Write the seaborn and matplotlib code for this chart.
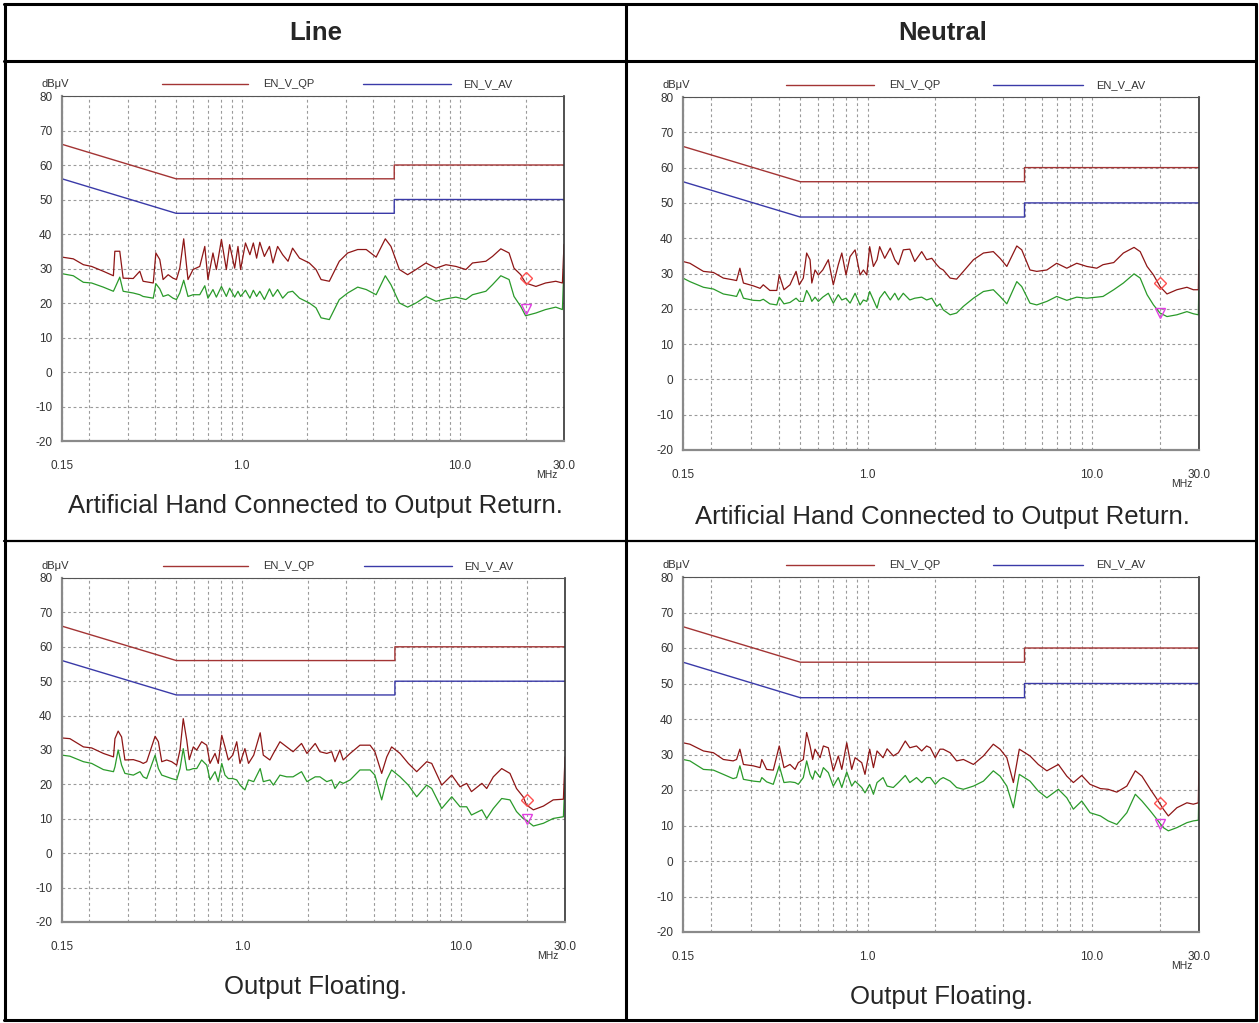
import matplotlib
matplotlib.use("Agg")
import matplotlib.pyplot as plt
from matplotlib.lines import Line2D
from matplotlib.ticker import NullFormatter
import seaborn as sns

# limit lines (same for every panel)
lim_freq = [0.15, 0.5, 5.0, 5.0, 30.0]
qp_limit = [66, 56, 56, 60, 60]
av_limit = [56, 46, 46, 50, 50]

# top-left: Line, artificial hand connected
tl_freq = [0.15, 0.169, 0.188, 0.205, 0.232, 0.258, 0.262, 0.276, 0.286, 0.318,
           0.341, 0.353, 0.393, 0.404, 0.421, 0.436, 0.460, 0.484, 0.502, 0.520,
           0.542, 0.567, 0.598, 0.642, 0.677, 0.700, 0.738, 0.765, 0.807, 0.850,
           0.880, 0.928, 0.961, 0.988, 1.04, 1.09, 1.13, 1.17, 1.21, 1.27,
           1.34, 1.39, 1.46, 1.54, 1.63, 1.71, 1.84,
           2.04, 2.19, 2.31, 2.52, 2.80, 3.06, 3.40, 3.72, 4.13, 4.55,
           4.83, 5.28, 5.76, 6.29, 6.99, 7.77, 8.63, 9.59, 10.65, 11.42,
           13.15, 14.10, 15.4, 16.8, 17.7, 19.0, 20.0, 22.3, 24.7, 27.5,
           29.5, 30.0]
tl_qp = [33.3, 32.8, 31.1, 30.6, 29.2, 27.9, 35.0, 35.0, 27.2, 27.1,
         29.2, 26.3, 25.8, 34.5, 32.6, 26.8, 28.2, 27.2, 26.8, 30.1,
         38.6, 26.8, 29.7, 30.6, 36.4, 26.8, 34.5, 29.7, 38.4, 29.7,
         36.9, 30.1, 36.4, 29.7, 37.4, 34.0, 37.4, 33.0, 37.6, 33.5,
         36.4, 31.6, 36.4, 34.0, 32.1, 35.9, 33.0,
         31.6, 29.7, 26.8, 26.3, 32.1, 34.5, 35.5, 35.5, 33.3, 38.6,
         36.4, 29.7, 28.2, 29.7, 31.6, 30.1, 31.1, 30.6, 29.7, 31.6,
         32.1, 33.5, 35.7, 34.5, 30.1, 28.2, 25.8, 24.8, 25.8, 26.3,
         25.8, 37.0]
tl_av = [28.5, 27.9, 26.0, 25.8, 24.6, 23.4, 24.3, 27.5, 23.4, 22.9,
         22.4, 21.9, 21.4, 25.6, 24.1, 21.9, 22.4, 21.4, 21.0, 22.9,
         26.6, 21.9, 22.4, 22.4, 25.0, 21.4, 23.9, 21.7, 24.8, 21.9,
         24.3, 21.7, 23.4, 21.9, 23.7, 21.4, 23.7, 21.9, 23.4, 21.0,
         24.1, 21.9, 23.9, 21.4, 23.1, 23.4, 21.4,
         20.0, 18.6, 15.7, 15.2, 21.0, 22.9, 24.6, 23.9, 22.4, 27.9,
         25.3, 20.0, 18.8, 20.0, 21.9, 20.5, 21.2, 21.7, 21.0, 22.4,
         23.4, 25.3, 27.9, 26.8, 21.9, 19.0, 16.3, 17.1, 18.1, 18.8,
         18.1, 31.0]

# top-right: Neutral, artificial hand connected
tr_freq = [0.15, 0.161, 0.185, 0.205, 0.227, 0.251, 0.260, 0.269, 0.279, 0.309,
           0.331, 0.342, 0.366, 0.393, 0.403, 0.423, 0.450, 0.479, 0.495, 0.516,
           0.534, 0.553, 0.563, 0.582, 0.602, 0.630, 0.667, 0.702, 0.739, 0.766,
           0.800, 0.834, 0.878, 0.924, 0.956, 0.990, 1.02, 1.06, 1.10, 1.13,
           1.19, 1.26, 1.32, 1.37, 1.44, 1.54, 1.62, 1.74, 1.83, 1.93,
           2.03, 2.10,
           2.17, 2.33, 2.49, 2.67, 2.96, 3.28, 3.63, 3.89, 4.17, 4.62,
           4.86, 5.29, 5.67, 6.29, 6.96, 7.72, 8.55, 9.48, 10.5, 11.2,
           12.5, 13.8, 15.4, 16.4, 17.6, 18.8, 20.1, 21.6, 23.9, 26.5,
           28.3, 29.8, 30.0]
tr_qp = [33.4, 32.9, 30.6, 30.3, 28.7, 28.2, 28.0, 31.5, 27.3, 26.5,
         25.8, 26.8, 25.2, 25.2, 29.6, 25.4, 26.8, 30.6, 26.8, 28.7,
         35.8, 33.9, 27.3, 31.0, 29.6, 31.0, 33.9, 26.8, 32.5, 35.8,
         29.6, 34.8, 36.7, 29.6, 31.0, 29.6, 37.6, 32.0, 33.9, 37.6,
         34.3, 37.2, 33.9, 32.5, 36.7, 36.9, 33.4, 36.2, 33.9, 34.3,
         32.5, 31.5,
         31.0, 28.7, 28.4, 30.6, 33.9, 35.8, 36.2, 34.3, 32.0, 37.8,
         36.7, 31.0, 30.6, 31.0, 32.9, 31.5, 32.9, 32.0, 31.5, 32.5,
         33.1, 35.8, 37.4, 36.2, 32.0, 29.6, 26.3, 24.2, 25.4, 26.1,
         25.4, 25.4, 36.7]
tr_av = [28.7, 27.7, 26.1, 25.6, 24.2, 23.7, 23.5, 25.6, 23.0, 22.4,
         22.3, 22.7, 21.4, 21.1, 23.3, 21.4, 21.8, 23.0, 22.1, 22.1,
         25.2, 23.5, 22.1, 23.3, 22.1, 23.3, 24.4, 21.6, 24.0, 22.5,
         23.0, 21.6, 24.4, 21.1, 22.5, 22.1, 24.9, 22.5, 20.2, 23.0,
         24.9, 22.5, 24.4, 22.5, 24.4, 22.5, 23.0, 23.3, 22.5, 23.0,
         20.7, 21.4,
         19.7, 18.3, 18.8, 20.7, 23.0, 24.9, 25.4, 23.5, 21.4, 27.7,
         26.3, 21.6, 21.1, 22.1, 23.5, 22.4, 23.3, 23.0, 23.3, 23.5,
         25.4, 27.3, 29.9, 28.7, 24.0, 21.1, 18.8, 17.8, 18.3, 19.2,
         18.6, 18.3, 29.0]

# bottom-left: Line, output floating
bl_freq = [0.15, 0.163, 0.188, 0.205, 0.232, 0.258, 0.262, 0.271, 0.281, 0.291,
           0.318, 0.341, 0.353, 0.366, 0.400, 0.414, 0.429, 0.452, 0.476, 0.502,
           0.520, 0.538, 0.558, 0.573, 0.598, 0.620, 0.653, 0.689, 0.713, 0.752,
           0.778, 0.807, 0.835, 0.865, 0.906, 0.945, 0.978, 1.03, 1.07, 1.13,
           1.21, 1.25, 1.34, 1.39, 1.49, 1.60, 1.71, 1.87, 1.98, 2.16,
           2.27, 2.44, 2.57, 2.66, 2.80,
           2.90, 3.12, 3.46, 3.85, 4.05, 4.35, 4.59, 4.83, 5.28, 5.76,
           6.29, 6.99, 7.37, 8.19, 9.10, 9.93, 10.65, 11.2, 12.5, 13.15,
           14.1, 15.4, 16.8, 18.0, 19.3, 20.0, 21.5, 23.9, 26.5, 29.5,
           30.0]
bl_qp = [33.5, 33.3, 30.9, 30.6, 29.0, 28.0, 33.3, 35.5, 33.8, 27.1,
         27.2, 26.6, 26.1, 26.6, 34.0, 32.4, 26.6, 27.1, 26.6, 25.6,
         30.0, 39.1, 32.9, 27.2, 30.9, 30.0, 32.4, 31.4, 26.1, 29.0,
         26.1, 34.3, 30.9, 27.1, 28.5, 32.4, 26.1, 30.4, 26.1, 28.5,
         35.0, 28.5, 27.1, 29.0, 32.4, 30.9, 29.5, 31.9, 29.0, 31.9,
         29.5, 29.0, 29.5, 26.6, 30.0,
         27.1, 29.0, 31.4, 31.4, 29.5, 23.2, 28.0, 30.9, 29.0, 26.1,
         23.7, 26.6, 26.1, 19.8, 22.7, 19.3, 20.3, 17.9, 20.3, 18.8,
         22.2, 24.6, 23.2, 18.8, 16.4, 14.0, 12.6, 13.7, 15.5, 15.7,
         28.0]
bl_av = [28.5, 28.2, 26.6, 26.1, 24.3, 23.7, 25.1, 30.0, 25.6, 23.2,
         22.7, 23.7, 22.2, 21.7, 28.5, 24.6, 22.7, 22.2, 21.7, 21.3,
         24.6, 30.4, 24.2, 24.2, 24.6, 24.6, 27.1, 25.6, 21.3, 23.7,
         20.8, 26.1, 22.7, 21.7, 21.7, 21.3, 19.8, 18.4, 21.3, 20.8,
         24.6, 20.8, 21.3, 19.8, 22.7, 22.2, 22.2, 23.7, 20.8, 22.2,
         22.2, 20.8, 21.3, 18.8, 20.8,
         20.3, 21.3, 24.2, 24.2, 22.7, 15.5, 21.3, 24.2, 22.2, 19.8,
         16.4, 19.8, 18.8, 13.0, 16.4, 13.5, 13.5, 11.1, 12.6, 10.1,
         13.0, 15.9, 15.5, 12.1, 10.1, 9.5, 7.9, 8.7, 10.1, 10.6,
         21.7]

# bottom-right: Neutral, output floating
br_freq = [0.15, 0.161, 0.185, 0.205, 0.227, 0.251, 0.260, 0.269, 0.279, 0.309,
           0.331, 0.337, 0.354, 0.379, 0.403, 0.423, 0.450, 0.474, 0.490, 0.516,
           0.534, 0.553, 0.568, 0.582, 0.613, 0.634, 0.667, 0.702, 0.739, 0.766,
           0.806, 0.848, 0.878, 0.940, 0.972, 1.02, 1.06, 1.10, 1.17, 1.22,
           1.30, 1.37, 1.47, 1.54, 1.65, 1.74, 1.83, 1.90, 2.00, 2.10,
           2.17, 2.33, 2.49, 2.67, 2.96, 3.28, 3.63, 3.89, 4.17, 4.46,
           4.74, 5.29, 5.76, 6.29, 7.08, 7.72, 8.26, 9.00, 9.80, 10.9,
           11.8, 12.9, 14.3, 15.6, 16.7, 18.2, 19.5, 20.8, 21.9, 23.9,
           26.5, 28.3, 29.8, 30.0]
br_qp = [33.3, 32.9, 31.0, 30.5, 28.6, 28.2, 28.6, 31.5, 27.2, 26.8,
         26.3, 28.6, 25.8, 25.6, 32.4, 26.3, 27.2, 25.8, 27.7, 28.6,
         36.2, 32.4, 28.6, 31.5, 29.1, 32.4, 31.9, 25.4, 29.6, 25.8,
         33.3, 25.8, 29.1, 27.7, 24.4, 31.5, 26.3, 31.0, 29.1, 31.6,
         29.6, 30.5, 33.8, 31.9, 32.4, 31.0, 32.4, 31.9, 29.1, 31.5,
         31.5, 30.5, 28.2, 28.6, 27.2, 29.6, 32.9, 31.5, 29.1, 22.1,
         31.5, 29.6, 27.2, 25.4, 27.2, 23.9, 22.1, 24.1, 21.6, 20.4,
         20.2, 19.4, 21.1, 25.4, 23.9, 20.2, 17.4, 14.6, 12.7, 15.0,
         16.4, 16.0, 16.4, 28.6]
br_av = [28.6, 28.2, 25.8, 25.6, 24.4, 23.2, 23.5, 26.8, 23.0, 22.5,
         22.3, 23.5, 22.3, 21.6, 26.8, 22.1, 22.3, 22.1, 21.6, 23.5,
         28.2, 24.4, 23.0, 25.4, 23.5, 26.3, 24.9, 21.1, 23.5, 20.7,
         25.1, 21.1, 22.5, 20.7, 19.2, 21.6, 18.8, 22.1, 23.5, 21.1,
         20.7, 22.1, 24.1, 22.1, 23.5, 22.1, 23.5, 23.5, 21.6, 23.0,
         23.5, 22.5, 20.7, 20.2, 21.1, 22.5, 25.4, 23.9, 21.1, 15.0,
         24.4, 22.5, 19.7, 17.8, 20.2, 17.8, 14.6, 16.9, 13.6, 12.7,
         11.3, 10.3, 13.6, 18.8, 16.9, 14.1, 11.7, 9.4, 8.5, 9.4,
         10.8, 11.3, 11.5, 22.5]

# final scan markers (tl, tr, bl, br)
mark_freq = [20.0, 20.1, 20.0, 20.0]
mark_qp = [27.2, 27.3, 15.5, 16.2]
mark_av = [18.4, 18.8, 9.9, 10.3]

x_ticks = [0.15, 1.0, 10.0, 30.0]
x_labels = ["0.15", "1.0", "10.0", "30.0"]
x_minor = [0.2, 0.3, 0.4, 0.5, 0.6, 0.7, 0.8, 0.9, 2, 3, 4, 5, 6, 7, 8, 9, 20]
y_ticks = list(range(-20, 81, 10))

headers = ["Line", "Neutral"]
captions = ["Artificial Hand Connected to Output Return.", "Output Floating."]

sns.set_style("white")
plt.rcParams["font.family"] = ["Liberation Sans Narrow", "Liberation Sans", "DejaVu Sans"]
plt.rcParams["axes.unicode_minus"] = False
big_font = ["Liberation Sans", "DejaVu Sans"]

QP_LIM = "#a33434"
AV_LIM = "#3a3aa8"
QP_COL = "#8e1616"
AV_COL = "#2a9a2a"
GRID = "#9a9a9a"
TXT = "#333333"

W, H = 1259, 1023
fig = plt.figure(figsize=(W / 100, H / 100), dpi=100)


def px_box(l, t, r, b):
    return [l / W, 1 - b / H, (r - l) / W, (b - t) / H]


panels = [
    (tl_freq, tl_qp, tl_av, 0, (62, 96, 564, 441)),
    (tr_freq, tr_qp, tr_av, 1, (683, 97, 1199, 450)),
    (bl_freq, bl_qp, bl_av, 2, (62, 578, 565, 922)),
    (br_freq, br_qp, br_av, 3, (683, 577, 1199, 932)),
]

for freq, qp, av, i, box in panels:
    ax = fig.add_axes(px_box(*box))
    ax.set_xscale("log")
    sns.lineplot(x=lim_freq, y=qp_limit, ax=ax, color=QP_LIM, lw=1.0,
                 estimator=None, sort=False)
    sns.lineplot(x=lim_freq, y=av_limit, ax=ax, color=AV_LIM, lw=1.0,
                 estimator=None, sort=False)
    sns.lineplot(x=freq, y=av, ax=ax, color=AV_COL, lw=0.9,
                 estimator=None, sort=False)
    sns.lineplot(x=freq, y=qp, ax=ax, color=QP_COL, lw=0.9,
                 estimator=None, sort=False)
    ax.plot([mark_freq[i]], [mark_qp[i]], marker="D", ms=6, mfc="none",
            mec="#ff5050", mew=1, ls="none")
    ax.plot([mark_freq[i]], [mark_av[i]], marker="v", ms=7, mfc="none",
            mec="#e040e0", mew=1, ls="none")

    ax.set_xlim(0.15, 30)
    ax.set_ylim(-20, 80)
    ax.set_xlabel("")
    ax.set_ylabel("")
    ax.set_xticks(x_ticks)
    ax.set_xticklabels(x_labels)
    ax.set_xticks(x_minor, minor=True)
    ax.xaxis.set_minor_formatter(NullFormatter())
    ax.set_yticks(y_ticks)
    ax.grid(True, which="both", axis="x", color=GRID, ls=(0, (2.5, 2.5)), lw=0.8)
    ax.grid(True, which="major", axis="y", color=GRID, ls=(0, (2.5, 2.5)), lw=0.8)
    ax.tick_params(axis="x", which="major", length=3, width=1, pad=11,
                   labelsize=8.5, colors=TXT)
    ax.tick_params(axis="x", which="minor", length=0)
    ax.tick_params(axis="y", length=0, pad=7, labelsize=8.5, colors=TXT)

    ax.spines["left"].set_color("#8a8a8a")
    ax.spines["left"].set_linewidth(1.6)
    ax.spines["bottom"].set_color("#8a8a8a")
    ax.spines["bottom"].set_linewidth(1.6)
    ax.spines["top"].set_color("#555555")
    ax.spines["top"].set_linewidth(0.8)
    ax.spines["right"].set_color("#333333")
    ax.spines["right"].set_linewidth(1.2)

    # legend strip above the plot
    ax.plot([0.2, 0.37], [1.035, 1.035], transform=ax.transAxes, clip_on=False,
            color=QP_LIM, lw=1)
    ax.text(0.4, 1.035, "EN_V_QP", transform=ax.transAxes, va="center",
            ha="left", fontsize=8, color=TXT)
    ax.plot([0.6, 0.775], [1.035, 1.035], transform=ax.transAxes, clip_on=False,
            color=AV_LIM, lw=1)
    ax.text(0.8, 1.035, "EN_V_AV", transform=ax.transAxes, va="center",
            ha="left", fontsize=8, color=TXT)
    ax.annotate("dBμV", xy=(0, 1), xycoords="axes fraction", xytext=(-21, 12),
                textcoords="offset pixels", ha="left", va="center",
                fontsize=8, color=TXT)
    ax.annotate("MHz", xy=(1, 0), xycoords="axes fraction", xytext=(-17, -34),
                textcoords="offset pixels", ha="center", va="center",
                fontsize=7.5, color=TXT)


def fig_line(x0, y0, x1, y1, lw=2.2):
    fig.add_artist(Line2D([x0 / W, x1 / W], [1 - y0 / H, 1 - y1 / H],
                          transform=fig.transFigure, color="black", lw=lw))


# table frame
fig_line(4, 4, 1256, 4)
fig_line(4, 61, 1256, 61)
fig_line(4, 541, 1256, 541, lw=1.6)
fig_line(4, 1020, 1256, 1020)
fig_line(5, 4, 5, 1020)
fig_line(626, 4, 626, 1020)
fig_line(1256, 4, 1256, 1020)

fig.text(316 / W, 1 - 33 / H, headers[0], ha="center", va="center",
         fontsize=18.5, fontweight="bold", family=big_font)
fig.text(943 / W, 1 - 33 / H, headers[1], ha="center", va="center",
         fontsize=18.5, fontweight="bold", family=big_font)
fig.text(315 / W, 1 - 506 / H, captions[0], ha="center", va="center",
         fontsize=18.5, family=big_font)
fig.text(942 / W, 1 - 517 / H, captions[0], ha="center", va="center",
         fontsize=18.5, family=big_font)
fig.text(316 / W, 1 - 987 / H, captions[1], ha="center", va="center",
         fontsize=18.5, family=big_font)
fig.text(942 / W, 1 - 997 / H, captions[1], ha="center", va="center",
         fontsize=18.5, family=big_font)

fig.savefig("out.png", dpi=100, facecolor="white")
